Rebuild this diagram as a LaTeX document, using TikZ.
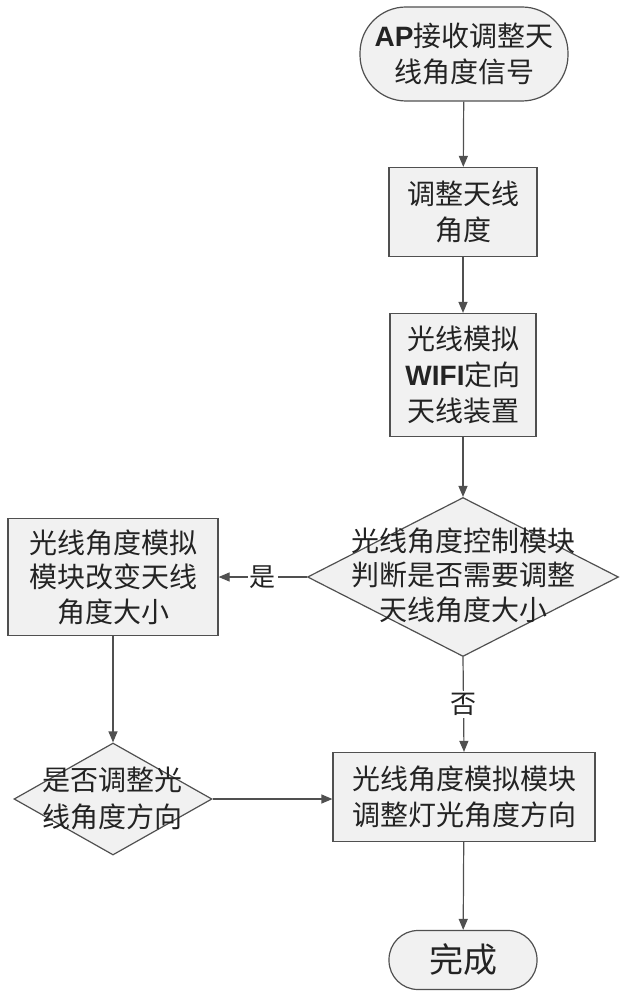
\documentclass[tikz,border=0pt]{standalone}
\usepackage{fontspec}
\setmainfont{Noto Sans CJK SC}
\newfontfamily\latb{Liberation Sans}
\usetikzlibrary{arrows.meta,shapes.geometric}
\definecolor{linec}{RGB}{80,80,80}
\definecolor{fillc}{RGB}{241,241,241}
\definecolor{txtc}{RGB}{35,35,35}
\begin{document}
\begin{tikzpicture}[x=1pt,y=-1pt,
  box/.style={draw=linec, fill=fillc, line width=1.2pt, inner sep=0pt, align=center,
    font=\fontsize{28}{36}\selectfont, text=txtc},
  term/.style={box, rounded corners=#1},
  dia/.style={diamond, draw=linec, fill=fillc, line width=1.2pt, inner sep=0pt},
  txt/.style={align=center, font=\fontsize{28}{35}\selectfont, text=txtc, inner sep=0pt},
  arr/.style={draw=linec, line width=1.2pt, -{Triangle[length=11pt,width=9pt]}},
  lbl/.style={fill=white, inner sep=2pt, font=\fontsize{26}{30}\selectfont, text=txtc}]
\useasboundingbox (0,0) rectangle (630,1000);
\fill[white] (0,0) rectangle (630,1000);
\node[term=46pt, minimum width=208pt, minimum height=94pt] (start) at (464,54)
  {{\latb\bfseries AP}接收调整天\\线角度信号};
\node[box, minimum width=148pt, minimum height=89pt] (b1) at (463,212) {调整天线\\角度};
\node[box, minimum width=146pt, minimum height=123pt] (b2) at (463,375)
  {光线模拟\\{\latb\bfseries WIFI}定向\\天线装置};
\node[dia, minimum width=311pt, minimum height=159pt] (d1) at (463,577) {};
\node[txt, font=\fontsize{28}{34.5}\selectfont] (d1t) at (463,575) {光线角度控制模块\\判断是否需要调整\\天线角度大小};
\node[box, minimum width=210pt, minimum height=117pt, font=\fontsize{28}{34.5}\selectfont] (lb) at (113,577)
  {光线角度模拟\\模块改变天线\\角度大小};
\node[dia, minimum width=198pt, minimum height=112pt] (d2) at (113,799) {};
\node[txt, font=\fontsize{28}{37}\selectfont] (d2t) at (112,798) {是否调整光\\线角度方向};
\node[box, minimum width=262pt, minimum height=89pt] (rb) at (464,797)
  {光线角度模拟模块\\调整灯光角度方向};
\node[term=29pt, minimum width=148pt, minimum height=59pt, font=\fontsize{34}{40}\selectfont] (end) at (463,960) {完成};
\draw[arr] (start) -- (b1);
\draw[arr] (b1) -- (b2);
\draw[arr] (b2) -- (d1);
\draw[arr] (d1.west) -- node[lbl] {是} (lb.east);
\draw[arr] (d1.south) -- node[lbl] {否} (rb.north);
\draw[arr] (lb.south) -- (d2.north);
\draw[arr] (d2.east) -- (d2.east -| rb.west);
\draw[arr] (rb) -- (end);
\end{tikzpicture}
\end{document}
